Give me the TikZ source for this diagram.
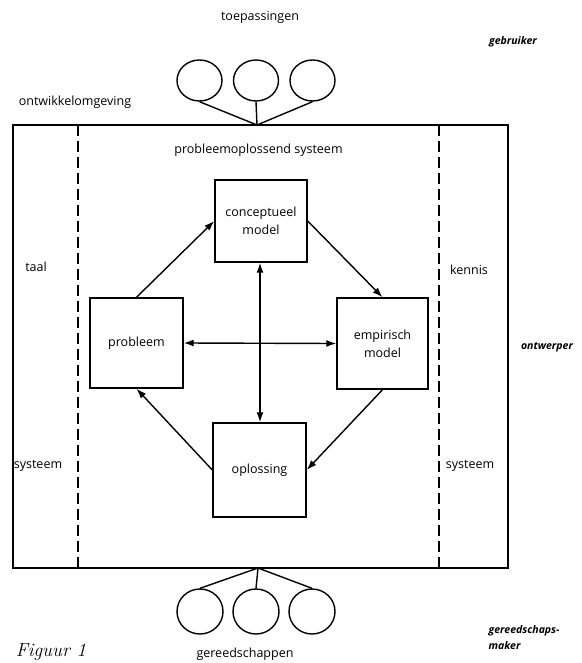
\documentclass[tikz,border=0pt]{standalone}
\usepackage{fontspec}
\newfontfamily\labelfont{Open Sans}
\usetikzlibrary{arrows.meta,shapes.geometric}
\begin{document}
\begin{tikzpicture}[x=1pt,y=-1pt,
  line width=1.4pt,
  txt/.style={font=\labelfont\fontsize{12.5}{15}\selectfont, inner sep=0pt, align=center},
  role/.style={font=\labelfont\bfseries\itshape\fontsize{10.5}{16}\selectfont, inner sep=0pt, align=left},
  block/.style={draw, rectangle, inner sep=0pt, align=center,
    font=\labelfont\fontsize{12.5}{18}\selectfont},
  ball/.style={draw, ellipse, minimum width=45pt, minimum height=41pt, inner sep=0pt},
  lowball/.style={draw, ellipse, minimum width=46pt, minimum height=45pt, inner sep=0pt},
  arr/.style={-{Latex[length=10pt,width=7pt]}},
  darr/.style={{Latex[length=10pt,width=7pt]}-{Latex[length=10pt,width=7pt]}},
  sep/.style={dash pattern=on 11pt off 5pt}]
\useasboundingbox (0,0) rectangle (581,663);

% outer environment frame and the two dashed separators
\node[draw, rectangle, inner sep=0pt, minimum width=495pt, minimum height=443pt]
  (frame) at (260.5,346.5) {};
\coordinate (sepLtop) at (78,125);
\coordinate (sepLbot) at (78,568);
\coordinate (sepRtop) at (439,125);
\coordinate (sepRbot) at (439,568);
\draw[sep] (sepLtop) -- (sepLbot);
\draw[sep] (sepRtop) -- (sepRbot);

% applications on top
\node[ball] (a1) at (199.5,80.5) {};
\node[ball] (a2) at (256,80.5) {};
\node[ball] (a3) at (312.5,80.5) {};
\coordinate (topjoin) at (257,125);
\draw (a1.south) -- (topjoin);
\draw (a2.south) -- (topjoin);
\draw (a3.south) -- (topjoin);

% tools at the bottom
\node[lowball] (t1) at (200,611.5) {};
\node[lowball] (t2) at (256,611.5) {};
\node[lowball] (t3) at (312,611.5) {};
\coordinate (botjoin) at (258,568);
\draw (t1.north) -- (botjoin);
\draw (t2.north) -- (botjoin);
\draw (t3.north) -- (botjoin);

% texts
\node[txt] (toep) at (260,17) {toepassingen};
\node[role] (gebr) at (513,42) {gebruiker};
\node[txt] (omg) at (75,102) {ontwikkelomgeving};
\node[txt] (pss) at (258.5,150) {probleemoplossend systeem};
\node[txt] (taal) at (36,267) {taal};
\node[txt] (sysL) at (38,466) {systeem};
\node[txt] (kennis) at (469,270) {kennis};
\node[txt] (sysR) at (470,466) {systeem};
\node[role] (ontw) at (547,347) {ontwerper};
\node[role, anchor=west] (maker) at (488,638) {gereedschaps-\\maker};
\node[txt] (gereed) at (245,654) {gereedschappen};
\node[font=\itshape\fontsize{19}{21}\selectfont, inner sep=0pt] (fig) at (51,652) {Figuur 1};

% problem solving cycle
\node[block, minimum width=92pt, minimum height=82pt] (concept) at (261,221) {conceptueel\\model};
\node[block, minimum width=93pt, minimum height=90pt] (prob) at (136.5,343) {probleem};
\node[block, minimum width=91pt, minimum height=91pt] (emp) at (382.5,343.5) {empirisch\\model};
\node[block, minimum width=93pt, minimum height=94pt] (opl) at (259.5,470) {oplossing};
\coordinate (vaxis) at (260,0);

\draw[arr] (prob.north) -- (concept.west);
\draw[arr] (concept.east) -- (emp.north);
\draw[arr] (emp.south) -- (opl.east);
\draw[arr] (opl.west) -- (prob.south);
\draw[darr] (prob.east) -- (emp.west);
\draw[darr] (concept.south -| vaxis) -- (opl.north -| vaxis);
\end{tikzpicture}
\end{document}
